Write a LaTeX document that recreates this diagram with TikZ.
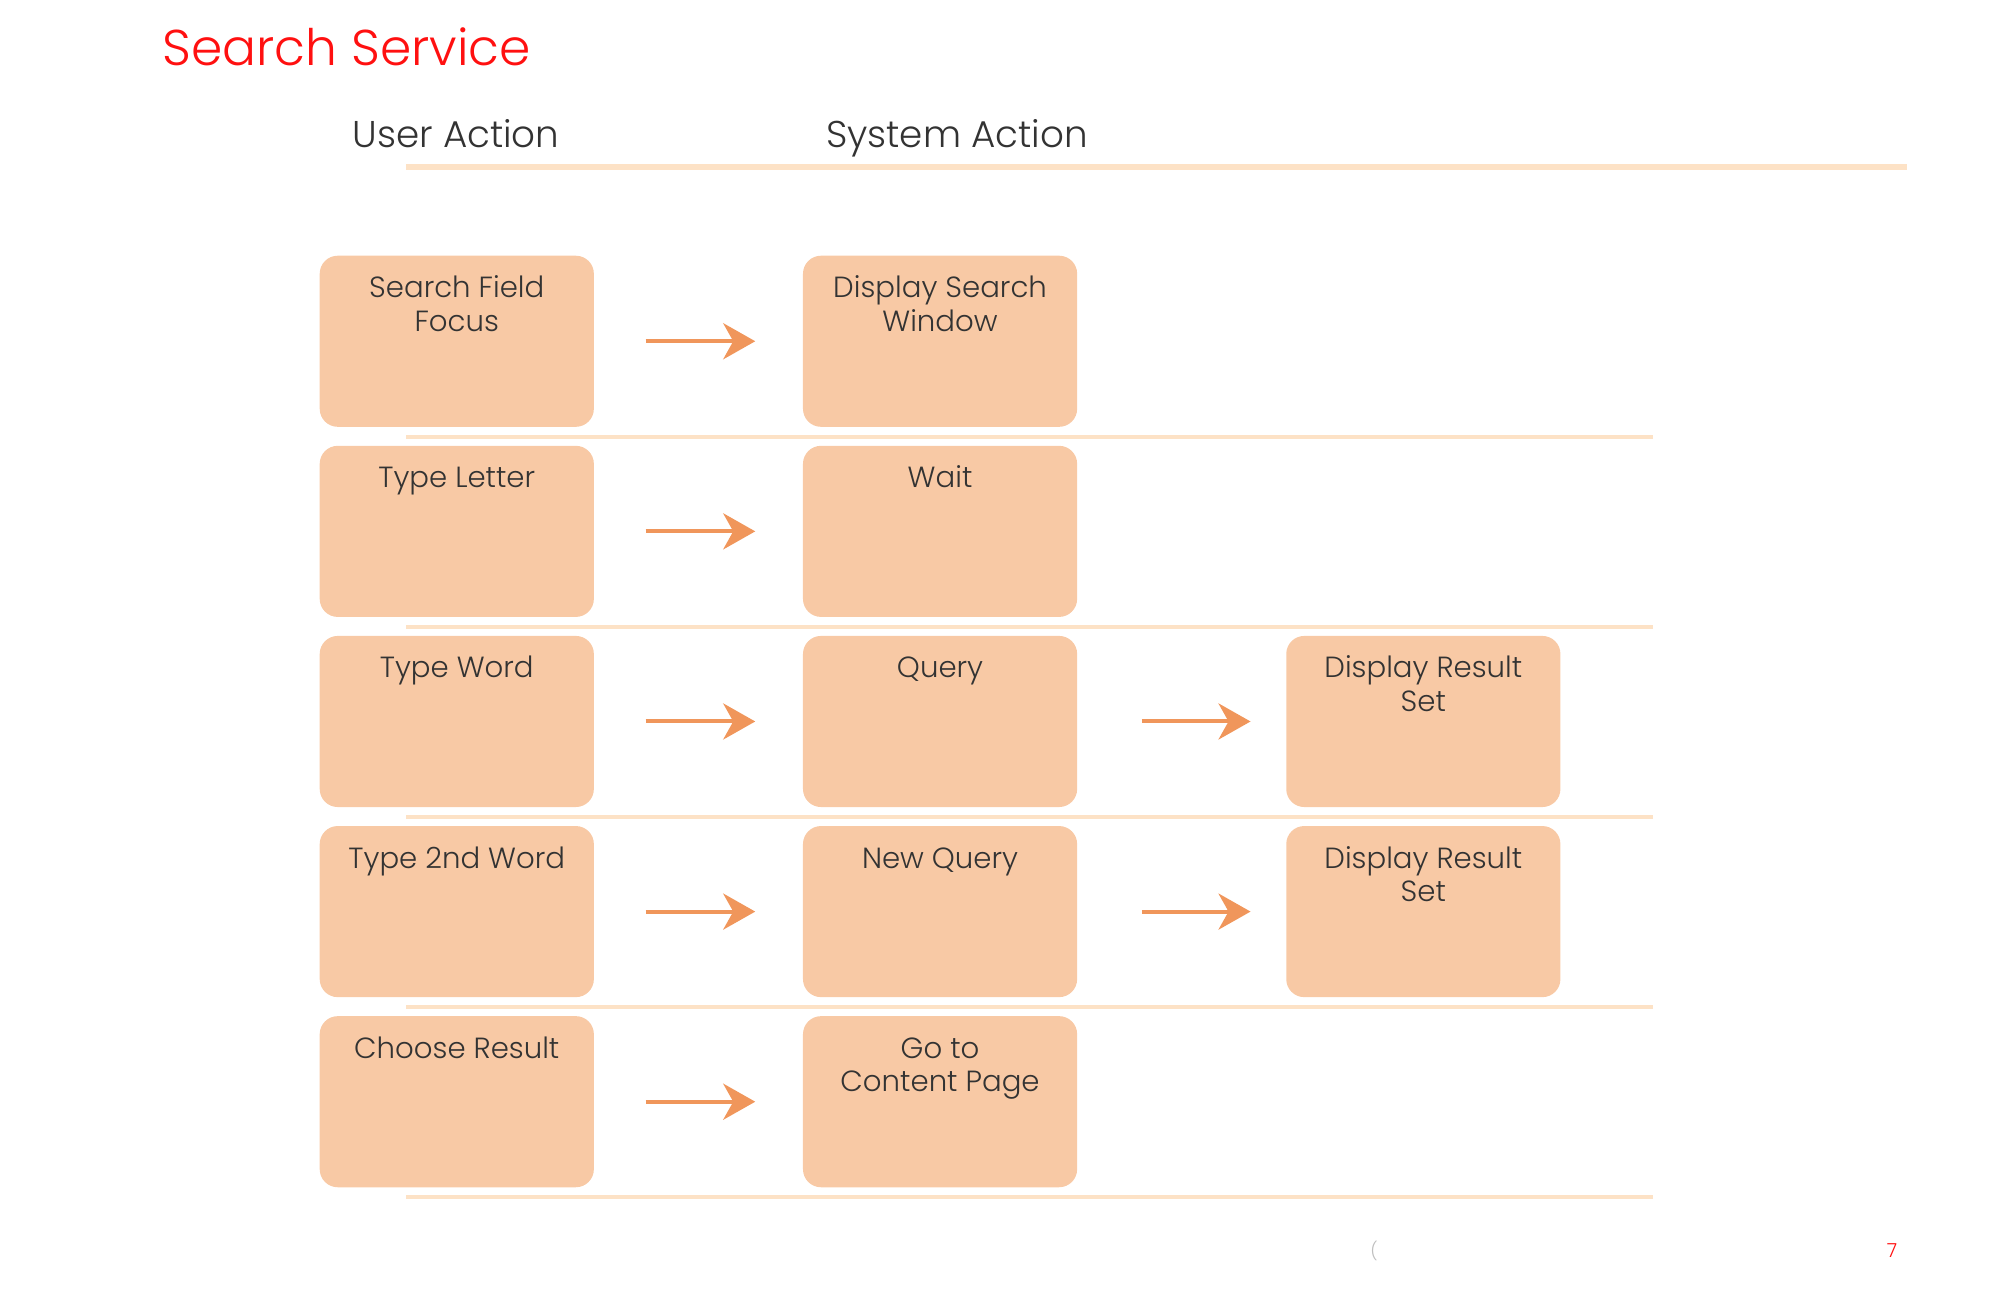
\documentclass[tikz,border=0pt]{standalone}
\usepackage{fontspec}
\setmainfont{Poppins Light}
\usetikzlibrary{arrows.meta,matrix,calc,positioning}
\definecolor{boxfill}{HTML}{F8C9A5}
\definecolor{arrowcol}{HTML}{F0965B}
\definecolor{linecol}{HTML}{FDE2C6}
\definecolor{textgrey}{HTML}{333333}
\definecolor{titlered}{HTML}{FF1010}
\tikzset{
  box/.style={fill=boxfill,rounded corners=0.18cm,inner sep=0pt,text=textgrey},
  head/.style={anchor=base,inner sep=0pt,text=textgrey,font=\fontsize{10.6}{13}\selectfont},
  arrow/.style={color=arrowcol,line width=0.04cm,-{Stealth[length=0.32cm,width=0.36cm,inset=0.1cm]},shorten <=0.51cm,shorten >=0.47cm},
  rowline/.style={draw=linecol,line width=0.04cm},
}
\newcommand{\cell}[1]{\parbox[t][1.71cm][t]{2.74cm}{\centering\fontsize{8.3}{9.5}\selectfont\rule{0pt}{0.42cm}#1}}

\begin{document}
\begin{tikzpicture}[x=0.01cm,y=-0.01cm]
  \useasboundingbox (0,0) rectangle (2000,1300);
  \node[anchor=base west,inner sep=0pt,text=titlered,font=\fontsize{14.3}{18}\selectfont] (title) at (162,66) {Search Service};
  \node[head] (user) at (456,148) {User Action};
  \node[head] (system) at (957,148) {System Action};
  \draw[rowline,line width=0.05cm] (406,167) -- (1907,167);

  \matrix (m) [matrix of nodes,nodes={box},row sep=0.19cm,column sep=2.09cm,anchor=north west,inner sep=0pt,ampersand replacement=\&] at (319,255)
  {
    \cell{Search Field\\Focus} \& \cell{Display Search\\Window} \& \\
    \cell{Type Letter} \& \cell{Wait} \& \\
    \cell{Type Word} \& \cell{Query} \& \cell{Display Result\\Set} \\
    \cell{Type 2nd Word} \& \cell{New Query} \& \cell{Display Result\\Set} \\
    \cell{Choose Result} \& \cell{Go to\\Content Page} \& \\};

  \foreach \r in {1,...,5}
    \draw[rowline] ($(m-\r-1.south west)+(87,9.5)$) -- ($(m-\r-1.south west -| m-3-3.east)+(92,9.5)$);
  \foreach \r in {1,...,5}
    \path[arrow] (m-\r-1) edge (m-\r-2);
  \foreach \r in {3,4}
    \path[arrow,shorten <=0.64cm,shorten >=0.35cm] (m-\r-2) edge (m-\r-3);

  \node[text=black!25,font=\fontsize{5}{6}\selectfont] (mark) at (1374,1251) {(};
  \node[text=titlered,font=\fontsize{5.5}{6}\selectfont] (page) at (1892,1251) {7};
\end{tikzpicture}
\end{document}
